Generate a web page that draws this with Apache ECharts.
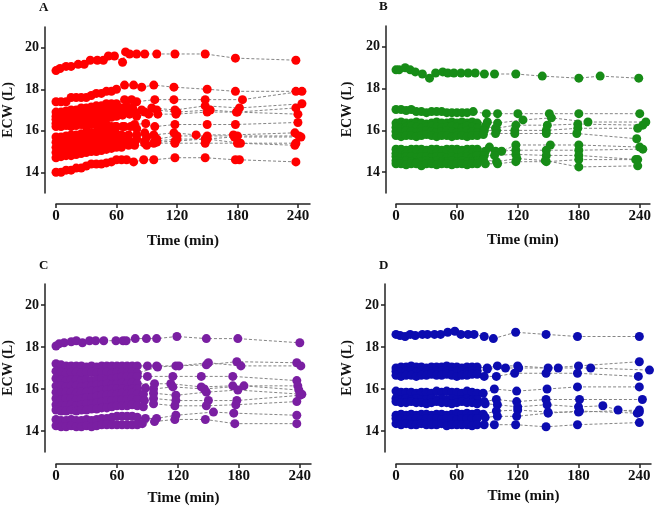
<!DOCTYPE html>
<html>
<head>
<meta charset="utf-8">
<title>ECW over time</title>
<script src="https://cdn.jsdelivr.net/npm/echarts@6/dist/echarts.min.js"></script>
<style>
html, body { margin: 0; padding: 0; background: #fff; }
#main { width: 654px; height: 513px; }
</style>
</head>
<body>
<div id="main"></div>
<script>
// each subject: [time (min), ECW (L)]
var subjA1 = [[0,18.9],[4,19.0],[10,19.1],[15,19.1],[22,19.2],[28,19.2],[34,19.4],[41,19.4],[47,19.4],[52,19.6],[58,19.6],[66,19.3],[69,19.8],[73,19.7],[80,19.7],[88,19.7],[100,19.7],[118,19.7],[148,19.7],[178,19.5],[238,19.4]];
var subjA2 = [[0,17.4],[5,17.4],[10,17.4],[15,17.6],[20,17.6],[25,17.6],[30,17.6],[35,17.7],[40,17.8],[45,17.8],[50,17.9],[55,17.9],[60,18.0],[68,18.2],[77,18.2],[85,18.1],[97,18.2],[117,18.1],[150,18.0],[178,17.9],[238,17.9]];
var subjA3 = [[0,16.9],[5,16.9],[10,16.95],[15,17.0],[20,17.0],[25,17.1],[30,17.1],[35,17.15],[40,17.2],[45,17.2],[50,17.3],[55,17.3],[60,17.3],[68,17.5],[75,17.5],[80,17.4],[98,17.5],[117,17.5],[148,17.5],[185,17.5],[244,17.9]];
var subjA4 = [[0,16.7],[5,16.7],[10,16.75],[15,16.8],[20,16.8],[25,16.85],[30,16.9],[35,16.9],[40,16.95],[45,17.0],[50,17.0],[55,17.05],[60,17.1],[65,17.1],[70,17.2],[76,17.1],[85,17.0],[95,17.1],[118,17.0],[148,17.2],[182,17.1],[244,17.3]];
var subjA5 = [[0,16.55],[5,16.55],[10,16.6],[15,16.65],[20,16.65],[25,16.7],[30,16.7],[35,16.75],[40,16.8],[45,16.8],[50,16.85],[55,16.9],[60,16.9],[65,16.95],[72,16.9],[78,16.9],[88,16.9],[100,17.0],[120,16.9],[153,17.0],[180,16.9],[238,17.1]];
var subjA6 = [[0,16.35],[5,16.35],[10,16.4],[15,16.4],[20,16.45],[25,16.5],[30,16.5],[35,16.55],[40,16.6],[45,16.6],[50,16.6],[55,16.65],[60,16.7],[66,16.75],[73,16.8],[80,16.7],[92,16.8],[101,16.8],[119,16.8],[150,16.9],[179,16.9],[240,16.8]];
var subjA7 = [[0,16.2],[5,16.2],[10,16.25],[15,16.2],[20,16.25],[25,16.3],[30,16.2],[35,16.3],[40,16.3],[45,16.25],[50,16.3],[55,16.2],[59,16.2],[68,16.2],[78,16.3],[89,16.35],[98,16.2],[118,16.3],[150,16.3],[178,16.3],[240,16.4]];
var subjA8 = [[0,15.7],[5,15.7],[10,15.75],[15,15.8],[20,15.8],[25,15.85],[30,15.9],[35,15.9],[40,15.95],[45,16.0],[50,16.0],[55,16.1],[60,16.2],[66,16.2],[74,16.2],[80,16.1],[88,15.9],[97,15.8],[117,15.9],[139,15.8],[176,15.8],[237,15.9]];
var subjA9 = [[0,15.45],[5,15.5],[10,15.5],[15,15.55],[20,15.6],[25,15.6],[30,15.65],[35,15.7],[40,15.7],[45,15.75],[50,15.8],[55,15.8],[60,15.85],[65,15.8],[72,15.8],[80,15.8],[90,15.7],[100,15.6],[120,15.75],[150,15.75],[180,15.75],[241,15.75]];
var subjA10 = [[0,15.2],[5,15.2],[10,15.25],[15,15.3],[20,15.3],[25,15.35],[30,15.4],[35,15.4],[40,15.45],[45,15.5],[50,15.5],[55,15.55],[60,15.6],[66,15.5],[72,15.55],[80,15.6],[88,15.5],[98,15.5],[120,15.6],[150,15.6],[183,15.4],[238,15.4]];
var subjA11 = [[0,14.95],[5,15.0],[10,15.0],[15,15.05],[20,15.1],[25,15.1],[30,15.15],[35,15.2],[40,15.2],[45,15.25],[50,15.3],[55,15.3],[60,15.4],[65,15.4],[70,15.4],[78,15.45],[88,15.4],[97,15.4],[118,15.4],[148,15.4],[180,15.4],[237,15.3]];
var subjA12 = [[0,14.7],[5,14.75],[10,14.8],[15,14.8],[20,14.85],[25,14.9],[30,14.95],[35,15.0],[40,15.0],[45,15.05],[50,15.1],[55,15.15],[60,15.2],[65,15.2],[72,15.3],[78,15.3],[90,15.3],[100,15.45],[118,15.5],[148,15.6],[177,15.7],[243,15.7]];
var subjA13 = [[0,14.0],[5,14.0],[10,14.1],[15,14.1],[20,14.2],[25,14.2],[30,14.3],[35,14.4],[40,14.4],[45,14.4],[50,14.45],[55,14.5],[60,14.6],[65,14.6],[70,14.6],[77,14.5],[87,14.6],[97,14.6],[118,14.7],[148,14.7],[178,14.6],[182,14.6],[238,14.5]];

var subjB1 = [[0,18.9],[3,18.9],[9,19.0],[14,18.9],[19,18.8],[26,18.7],[33,18.5],[39,18.75],[46,18.8],[51,18.75],[57,18.75],[64,18.75],[71,18.75],[78,18.75],[87,18.7],[97,18.7],[118,18.7],[144,18.6],[180,18.5],[201,18.6],[239,18.5]];
var subjB2 = [[0,17.0],[5,17.0],[10,16.95],[15,17.0],[20,16.9],[25,16.9],[30,16.85],[35,16.9],[40,16.9],[45,16.9],[50,16.85],[55,16.85],[60,16.85],[65,16.85],[70,16.85],[76,16.9],[89,16.8],[100,16.8],[120,16.8],[151,16.8],[180,16.8],[240,16.8]];
var subjB3 = [[0,16.35],[5,16.4],[10,16.35],[15,16.35],[20,16.4],[25,16.35],[30,16.3],[35,16.35],[40,16.4],[45,16.35],[50,16.35],[55,16.4],[60,16.35],[65,16.4],[70,16.35],[75,16.4],[80,16.35],[90,16.4],[100,16.35],[125,16.5],[153,16.6],[189,16.4],[246,16.4]];
var subjB4 = [[0,16.15],[5,16.1],[10,16.15],[15,16.2],[20,16.15],[25,16.1],[30,16.15],[35,16.2],[40,16.15],[45,16.1],[50,16.15],[55,16.2],[60,16.15],[65,16.1],[70,16.2],[75,16.15],[80,16.1],[88,16.2],[98,16.1],[118,16.25],[149,16.25],[179,16.3],[243,16.25]];
var subjB5 = [[0,15.95],[5,15.95],[10,16.0],[15,15.95],[20,15.9],[25,15.95],[30,16.0],[35,15.95],[40,15.9],[45,15.95],[50,16.0],[55,15.95],[60,15.9],[65,15.95],[70,16.0],[75,15.95],[80,15.9],[87,16.0],[99,16.0],[117,16.0],[148,16.0],[179,16.1],[238,16.1]];
var subjB6 = [[0,15.75],[5,15.7],[10,15.75],[15,15.75],[20,15.7],[25,15.75],[30,15.8],[35,15.75],[40,15.7],[45,15.75],[50,15.75],[55,15.7],[60,15.75],[65,15.75],[70,15.7],[75,15.75],[80,15.75],[86,15.8],[98,15.85],[117,15.85],[148,15.85],[178,15.85],[237,15.6]];
var subjB7 = [[0,15.1],[5,15.1],[10,15.05],[15,15.1],[20,15.1],[25,15.1],[30,15.05],[35,15.1],[40,15.1],[45,15.05],[50,15.1],[55,15.1],[60,15.1],[65,15.05],[70,15.1],[75,15.1],[80,15.1],[92,15.2],[104,15.0],[118,15.3],[152,15.3],[180,15.3],[240,15.2]];
var subjB8 = [[0,14.9],[5,14.95],[10,14.9],[15,14.9],[20,14.95],[25,14.9],[30,14.9],[35,14.95],[40,14.9],[45,14.9],[50,14.95],[55,14.9],[60,14.9],[65,14.95],[70,14.9],[75,14.9],[80,14.95],[88,15.0],[98,15.0],[118,15.05],[148,15.05],[180,15.05],[243,15.1]];
var subjB9 = [[0,14.75],[5,14.7],[10,14.75],[15,14.75],[20,14.7],[25,14.75],[30,14.75],[35,14.7],[40,14.75],[45,14.75],[50,14.7],[55,14.75],[60,14.7],[65,14.75],[70,14.75],[75,14.7],[80,14.8],[87,14.8],[97,14.8],[118,14.85],[148,14.8],[180,14.8],[238,14.6]];
var subjB10 = [[0,14.55],[5,14.5],[10,14.55],[15,14.5],[20,14.45],[25,14.5],[30,14.55],[35,14.5],[40,14.55],[45,14.5],[50,14.5],[55,14.55],[60,14.5],[65,14.55],[70,14.5],[75,14.5],[80,14.55],[86,14.6],[99,14.5],[119,14.65],[147,14.55],[180,14.25],[238,14.3]];
var subjB11 = [[0,14.4],[5,14.4],[10,14.35],[15,14.4],[20,14.4],[25,14.3],[30,14.4],[35,14.4],[40,14.35],[45,14.4],[50,14.4],[55,14.35],[60,14.4],[65,14.4],[70,14.35],[75,14.4],[80,14.4],[88,14.4],[100,14.4],[118,14.5],[148,14.5],[180,14.6],[236,14.6]];

var subjC1 = [[0,18.05],[3,18.15],[8,18.2],[15,18.25],[20,18.3],[26,18.2],[33,18.3],[39,18.3],[47,18.3],[59,18.3],[66,18.3],[69,18.3],[78,18.4],[89,18.4],[99,18.4],[119,18.5],[148,18.4],[179,18.4],[240,18.2]];
var subjC2 = [[0,17.2],[5,17.15],[10,17.1],[15,17.1],[20,17.1],[25,17.1],[30,17.05],[35,17.1],[40,17.05],[45,17.1],[50,17.1],[55,17.1],[60,17.1],[65,17.1],[70,17.1],[75,17.1],[80,17.1],[90,17.1],[99,17.1],[118,17.1],[148,17.15],[178,17.3],[237,17.25]];
var subjC3 = [[0,16.85],[5,16.8],[10,16.75],[15,16.8],[20,16.8],[25,16.75],[30,16.8],[35,16.8],[40,16.75],[45,16.8],[50,16.8],[55,16.75],[60,16.8],[65,16.8],[70,16.75],[75,16.8],[80,16.75],[100,17.05],[121,17.1],[150,17.25],[182,17.1],[241,17.1]];
var subjC4 = [[0,16.5],[5,16.45],[10,16.4],[15,16.45],[20,16.45],[25,16.4],[30,16.45],[35,16.4],[40,16.45],[45,16.5],[50,16.45],[55,16.5],[60,16.55],[65,16.6],[70,16.6],[75,16.6],[80,16.6],[90,16.6],[115,16.6],[143,16.6],[174,16.6],[237,16.4]];
var subjC5 = [[0,16.15],[5,16.15],[10,16.1],[15,16.15],[20,16.15],[25,16.1],[30,16.15],[35,16.15],[40,16.2],[45,16.2],[50,16.25],[55,16.2],[60,16.25],[65,16.3],[70,16.25],[75,16.3],[80,16.25],[97,16.25],[113,16.25],[143,16.1],[174,16.15],[238,16.15]];
var subjC6 = [[0,15.85],[5,15.8],[10,15.85],[15,15.85],[20,15.8],[25,15.85],[30,15.85],[35,15.9],[40,15.9],[45,15.95],[50,15.95],[55,16.0],[60,16.0],[65,16.0],[70,15.95],[75,16.0],[80,16.0],[88,16.05],[96,16.0],[115,16.1],[146,16.0],[185,16.15],[239,15.95]];
var subjC7 = [[0,15.55],[5,15.5],[10,15.55],[15,15.55],[20,15.5],[25,15.55],[30,15.6],[35,15.6],[40,15.65],[45,15.7],[50,15.7],[55,15.75],[60,15.75],[65,15.8],[70,15.75],[75,15.8],[80,15.75],[86,15.75],[96,15.8],[118,15.7],[148,15.85],[179,15.95],[242,15.75]];
var subjC8 = [[0,15.25],[5,15.2],[10,15.2],[15,15.25],[20,15.2],[25,15.25],[30,15.3],[35,15.3],[40,15.35],[45,15.4],[50,15.45],[55,15.45],[60,15.5],[65,15.5],[70,15.5],[75,15.55],[80,15.5],[87,15.45],[96,15.55],[118,15.45],[150,15.45],[178,15.45],[240,15.7]];
var subjC9 = [[0,15.0],[5,14.95],[10,14.95],[15,15.0],[20,14.95],[25,15.0],[30,15.0],[35,15.05],[40,15.05],[45,15.1],[50,15.1],[55,15.15],[60,15.2],[65,15.2],[70,15.2],[75,15.25],[80,15.2],[86,15.15],[96,15.3],[117,15.2],[148,15.2],[177,15.25],[237,15.4]];
var subjC10 = [[0,14.55],[5,14.5],[10,14.5],[15,14.55],[20,14.5],[25,14.5],[30,14.55],[35,14.5],[40,14.55],[45,14.6],[50,14.6],[55,14.65],[60,14.7],[65,14.7],[70,14.7],[75,14.7],[80,14.65],[88,14.6],[99,14.6],[118,14.75],[155,14.9],[175,14.85],[237,14.75]];
var subjC11 = [[0,14.25],[5,14.2],[10,14.2],[15,14.25],[20,14.2],[25,14.2],[30,14.25],[35,14.2],[40,14.25],[45,14.3],[50,14.3],[55,14.3],[60,14.3],[65,14.3],[70,14.3],[75,14.3],[80,14.3],[85,14.35],[97,14.45],[117,14.55],[147,14.55],[176,14.35],[237,14.35]];

var subjD1 = [[0,18.6],[4,18.55],[9,18.5],[14,18.6],[19,18.55],[26,18.6],[31,18.6],[38,18.6],[44,18.6],[51,18.7],[58,18.75],[64,18.6],[71,18.6],[77,18.6],[87,18.5],[96,18.4],[118,18.7],[148,18.6],[179,18.5],[240,18.5]];
var subjD2 = [[0,17.0],[5,17.05],[10,17.05],[15,17.1],[20,17.05],[25,17.05],[30,17.0],[35,17.05],[40,17.05],[45,17.05],[50,17.1],[55,17.05],[60,17.05],[65,17.0],[70,17.05],[75,17.05],[80,17.05],[90,17.0],[100,17.1],[120,17.1],[150,17.0],[180,17.1],[240,17.3]];
var subjD3 = [[0,16.85],[5,16.8],[10,16.85],[15,16.85],[20,16.8],[25,16.85],[30,16.85],[35,16.8],[40,16.85],[45,16.85],[50,16.85],[55,16.8],[60,16.85],[65,16.85],[70,16.8],[75,16.85],[80,16.85],[90,16.95],[108,17.0],[121,17.0],[160,17.0],[192,17.0],[250,16.9]];
var subjD4 = [[0,16.65],[5,16.6],[10,16.65],[15,16.65],[20,16.6],[25,16.65],[30,16.65],[35,16.7],[40,16.65],[45,16.65],[50,16.7],[55,16.65],[60,16.6],[65,16.65],[70,16.65],[75,16.7],[80,16.7],[87,16.6],[99,16.6],[117,16.75],[148,16.75],[179,16.75],[239,16.6]];
var subjD5 = [[0,15.9],[5,15.85],[10,15.85],[15,15.85],[20,15.8],[25,15.85],[30,15.85],[35,15.8],[40,15.9],[45,15.85],[50,15.9],[55,15.85],[60,15.85],[65,15.8],[70,15.9],[75,15.85],[80,15.8],[86,15.8],[97,16.0],[119,15.9],[149,16.0],[179,16.1],[240,16.1]];
var subjD6 = [[0,15.55],[5,15.5],[10,15.55],[15,15.5],[20,15.55],[25,15.5],[30,15.5],[35,15.55],[40,15.5],[45,15.55],[50,15.5],[55,15.55],[60,15.5],[65,15.5],[70,15.55],[75,15.5],[80,15.5],[87,15.4],[99,15.5],[119,15.4],[148,15.5],[181,15.5],[243,15.5]];
var subjD7 = [[0,15.4],[5,15.35],[10,15.35],[15,15.4],[20,15.35],[25,15.35],[30,15.3],[35,15.35],[40,15.4],[45,15.35],[50,15.35],[55,15.3],[60,15.35],[65,15.4],[70,15.35],[75,15.35],[80,15.3],[88,15.3],[100,15.25],[120,15.15],[149,15.25],[180,15.15],[204,15.2],[219,15.0],[240,14.9]];
var subjD8 = [[0,14.75],[5,14.8],[10,14.75],[15,14.8],[20,14.75],[25,14.8],[30,14.8],[35,14.75],[40,14.8],[45,14.8],[50,14.75],[55,14.8],[60,14.85],[65,14.8],[70,14.85],[75,14.8],[80,14.85],[86,14.8],[99,14.95],[120,15.0],[150,14.9],[180,14.9],[240,15.0]];
var subjD9 = [[0,14.6],[5,14.6],[10,14.55],[15,14.6],[20,14.6],[25,14.55],[30,14.6],[35,14.6],[40,14.6],[45,14.55],[50,14.6],[55,14.6],[60,14.55],[65,14.6],[70,14.6],[75,14.6],[80,14.6],[88,14.65],[100,14.7],[119,14.7],[150,14.85],[181,14.95],[238,14.85]];
var subjD10 = [[0,14.35],[5,14.3],[10,14.35],[15,14.3],[20,14.3],[25,14.35],[30,14.3],[35,14.3],[40,14.3],[45,14.35],[50,14.25],[55,14.3],[60,14.3],[65,14.3],[70,14.3],[75,14.25],[80,14.3],[87,14.3],[97,14.3],[118,14.3],[148,14.2],[179,14.3],[240,14.4]];

var groupA = [subjA1, subjA2, subjA3, subjA4, subjA5, subjA6, subjA7, subjA8, subjA9, subjA10, subjA11, subjA12, subjA13];
var groupB = [subjB1, subjB2, subjB3, subjB4, subjB5, subjB6, subjB7, subjB8, subjB9, subjB10, subjB11];
var groupC = [subjC1, subjC2, subjC3, subjC4, subjC5, subjC6, subjC7, subjC8, subjC9, subjC10, subjC11];
var groupD = [subjD1, subjD2, subjD3, subjD4, subjD5, subjD6, subjD7, subjD8, subjD9, subjD10];

var panelLetters = ['A', 'B', 'C', 'D'];
var timeTicks = [0, 60, 120, 180, 240];
var ecwTicks = [14, 16, 18, 20];

var font = '"Liberation Serif", "Times New Roman", serif';
var ink = '#111';
var panels = [
    {groups: groupA, color: '#ff0000', grid: {left: 56, top: 27, width: 254, height: 166}, xMax: 252, yOff: 11, xOff: 11, yGap: 30, xGap: 30, title: {left: 39, top: 1}},
    {groups: groupB, color: '#178c17', grid: {left: 396, top: 26, width: 254, height: 167}, xMax: 250, yOff: 10, xOff: 11, yGap: 32, xGap: 29, title: {left: 379, top: 0}},
    {groups: groupC, color: '#7a1fa2', grid: {left: 56, top: 284, width: 255, height: 168}, xMax: 251, yOff: 11, xOff: 12, yGap: 30, xGap: 27, title: {left: 39, top: 259}},
    {groups: groupD, color: '#0c0cb0', grid: {left: 396, top: 284, width: 255, height: 168}, xMax: 251.5, yOff: 11, xOff: 12, yGap: 31, xGap: 25, title: {left: 379, top: 259}}
];

var myChart = echarts.init(document.getElementById('main'));

var grids = [], xAxes = [], yAxes = [], titles = [], series = [];
panels.forEach(function (p, i) {
    grids.push(p.grid);
    titles.push({
        text: panelLetters[i], left: p.title.left, top: p.title.top, padding: 0,
        textStyle: {fontFamily: font, fontWeight: 'bold', fontSize: 13, color: ink}
    });
    xAxes.push({
        type: 'value', gridIndex: i, min: 0, max: p.xMax, offset: p.xOff,
        name: 'Time (min)', nameLocation: 'middle', nameGap: p.xGap,
        nameTextStyle: {fontFamily: font, fontWeight: 'bold', fontSize: 15, color: ink},
        axisLine: {show: true, onZero: false, lineStyle: {color: '#222', width: 1.5}},
        axisTick: {show: true, length: 4, customValues: timeTicks, lineStyle: {color: '#222', width: 1.5}},
        axisLabel: {customValues: timeTicks, margin: 5, fontFamily: font, fontWeight: 'bold', fontSize: 15, color: ink},
        splitLine: {show: false}
    });
    yAxes.push({
        type: 'value', gridIndex: i, min: 13, max: 21, offset: p.yOff,
        name: 'ECW (L)', nameLocation: 'middle', nameGap: p.yGap,
        nameTextStyle: {fontFamily: font, fontWeight: 'bold', fontSize: 14, color: ink},
        axisLine: {show: true, onZero: false, lineStyle: {color: '#222', width: 1.5}},
        axisTick: {show: true, length: 4, customValues: ecwTicks, lineStyle: {color: '#222', width: 1.5}},
        axisLabel: {customValues: ecwTicks, margin: 6, fontFamily: font, fontWeight: 'bold', fontSize: 14, color: ink},
        splitLine: {show: false}
    });
    // dashed connectors, one per subject, under the dots
    p.groups.forEach(function (s) {
        series.push({
            type: 'line', xAxisIndex: i, yAxisIndex: i, data: s,
            symbol: 'none', showSymbol: false, silent: true, clip: false, z: 1,
            lineStyle: {color: '#858585', width: 1, type: [3, 2]}
        });
    });
    var allPts = [];
    p.groups.forEach(function (s) { allPts = allPts.concat(s); });
    series.push({
        type: 'scatter', xAxisIndex: i, yAxisIndex: i, data: allPts,
        symbol: 'circle', symbolSize: 9, clip: false, z: 2,
        itemStyle: {color: p.color, opacity: 1}
    });
});

option = {
    backgroundColor: '#fff',
    animation: false,
    title: titles,
    grid: grids,
    xAxis: xAxes,
    yAxis: yAxes,
    series: series
};
myChart.setOption(option);

window.onresize = function () {
    myChart.resize();
};
</script>
</body>
</html>
